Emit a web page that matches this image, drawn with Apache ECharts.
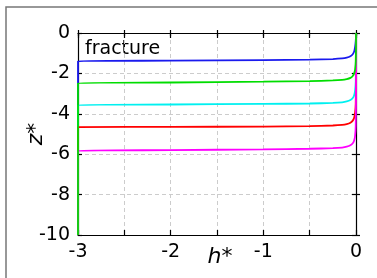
<!DOCTYPE html>
<html>
<head>
<meta charset="utf-8">
<script src="https://cdn.jsdelivr.net/npm/echarts@6/dist/echarts.min.js"></script>
<style>
html, body { margin: 0; padding: 0; background: #fff; }
#chartMain { width: 377px; height: 278px; }
</style>
</head>
<body>
<div id="chartMain"></div>
<script>
// h* sample positions shared by every curve (vertical start at -3, bend near 0)
const hValues = [-3, -3, -2, -1, -0.5, -0.25, -0.15, -0.1, -0.06, -0.035, -0.02, -0.01, -0.003, 0, 0]
const zBlue = [-10, -1.39, -1.37, -1.34, -1.32, -1.29, -1.26, -1.22, -1.15, -1.05, -0.92, -0.7, -0.4, -0.1, 0]
const zGreen = [-10, -2.48, -2.45, -2.41, -2.38, -2.35, -2.32, -2.28, -2.22, -2.13, -2.0, -1.8, -1.4, -0.5, 0]
const zCyan = [-10, -3.56, -3.54, -3.51, -3.49, -3.46, -3.43, -3.39, -3.32, -3.22, -3.08, -2.85, -2.4, -1.2, 0]
const zRed = [-10, -4.66, -4.65, -4.63, -4.61, -4.58, -4.55, -4.51, -4.44, -4.34, -4.2, -3.95, -3.5, -2.2, 0]
const zMagenta = [-10, -5.83, -5.8, -5.76, -5.73, -5.7, -5.67, -5.63, -5.56, -5.46, -5.32, -5.1, -4.6, -3.2, 0]
const xTickLabels = ['-3', '-2', '-1', '0']
const yTickLabels = ['-10', '-8', '-6', '-4', '-2', '0']

const font = 'DejaVu Sans'
const pairs = (zs) => hValues.map((h, i) => [h, zs[i]])

function tickAxis(pos, inside, len) {
  return {
    type: 'value', position: pos, min: -3, max: 0, interval: 0.5,
    axisLine: { show: false },
    axisTick: { show: true, inside: inside, length: len, lineStyle: { color: '#000', width: 1.2 } },
    axisLabel: { show: false },
    splitLine: { show: false }
  }
}
function tickAxisY(pos, inside, len) {
  return {
    type: 'value', position: pos, min: -10, max: 0, interval: 2,
    axisLine: { show: false },
    axisTick: { show: true, inside: inside, length: len, lineStyle: { color: '#000', width: 1.2 } },
    axisLabel: { show: false },
    splitLine: { show: false }
  }
}
function curve(name, zs, color) {
  return {
    name: name, type: 'line', data: pairs(zs), showSymbol: false, clip: false,
    smooth: 0.2,
    lineStyle: { color: color, width: 1.8 }
  }
}

const myChart = echarts.init(document.getElementById('chartMain'))
myChart.setOption({
  animation: false,
  grid: { left: 78, right: 21, top: 33, bottom: 43, outerBoundsMode: 'none', containLabel: false },
  xAxis: [
    {
      type: 'value', position: 'bottom', min: -3, max: 0, interval: 0.5,
      name: 'h*', nameLocation: 'middle', nameGap: 11, nameMoveOverlap: false,
      nameTextStyle: { fontFamily: font, fontSize: 22, fontStyle: 'italic', color: '#000', padding: [0, 0, 0, 6] },
      axisLine: { show: true, onZero: false, lineStyle: { color: '#000', width: 1.2 } },
      axisTick: { show: true, inside: true, length: 5, lineStyle: { color: '#000', width: 1.2 } },
      axisLabel: {
        fontFamily: font, fontSize: 19, color: '#000', margin: 8,
        formatter: (v) => xTickLabels.includes(String(v)) ? String(v) : ''
      },
      splitLine: { show: true, lineStyle: { color: '#ccc', type: [4, 3], width: 1 } }
    },
    tickAxis('bottom', false, 3),
    Object.assign(tickAxis('top', true, 5), { axisLine: { show: true, onZero: false, lineStyle: { color: '#000', width: 1.2 } } }),
    tickAxis('top', false, 3)
  ],
  yAxis: [
    {
      type: 'value', position: 'left', min: -10, max: 0, interval: 2,
      name: 'z*', nameLocation: 'middle', nameGap: 31, nameMoveOverlap: false,
      nameTextStyle: { fontFamily: font, fontSize: 22, fontStyle: 'italic', color: '#000' },
      axisLine: { show: true, onZero: false, lineStyle: { color: '#000', width: 1.2 } },
      axisTick: { show: true, inside: true, length: 4, lineStyle: { color: '#000', width: 1.2 } },
      axisLabel: {
        fontFamily: font, fontSize: 19, color: '#000', margin: 8,
        formatter: (v) => yTickLabels.includes(String(v)) ? String(v) : ''
      },
      splitLine: { show: true, lineStyle: { color: '#ccc', type: [4, 3], width: 1 } }
    },
    tickAxisY('left', false, 2),
    Object.assign(tickAxisY('right', true, 4), { axisLine: { show: true, onZero: false, lineStyle: { color: '#000', width: 1.2 } } }),
    tickAxisY('right', false, 4)
  ],
  graphic: [
    {
      type: 'rect', shape: { x: 6, y: 7, width: 420, height: 320 },
      style: { fill: 'none', stroke: '#777', lineWidth: 1.5 }, silent: true
    },
    {
      type: 'text', left: 85, top: 40,
      style: { text: 'fracture', fontFamily: font, fontSize: 19, fill: '#000' }
    }
  ],
  series: [
    curve('blue', zBlue, '#1a1aee'),
    curve('cyan', zCyan, '#00f0f0'),
    curve('red', zRed, '#ff0000'),
    curve('magenta', zMagenta, '#ff00ff'),
    curve('green', zGreen, '#00dd00')
  ]
})
window.addEventListener('resize', () => {
  myChart.resize()
})
</script>
</body>
</html>
